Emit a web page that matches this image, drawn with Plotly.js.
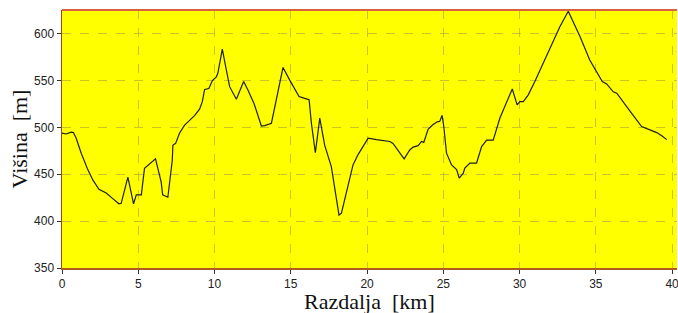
<!DOCTYPE html>
<html>
<head>
<meta charset="utf-8">
<script src="https://cdn.plot.ly/plotly-3.0.1.min.js"></script>
<style>html,body{margin:0;padding:0;background:#fff;}#chart{width:678px;height:313px;}</style>
</head>
<body>
<div id="chart"></div>
<script>
// Distance along route [km]
const distanceKm = [
  0.0, 0.27, 0.6, 0.75, 0.93, 1.26, 1.69, 2.02, 2.42, 2.9,
  3.33, 3.73, 3.88, 4.32, 4.69, 4.87, 5.2, 5.41, 6.13, 6.5,
  6.6, 6.94, 7.23, 7.27, 7.45, 7.71, 8.04, 8.37, 8.69, 9.02,
  9.2, 9.35, 9.63, 9.86, 10.12, 10.22, 10.51, 10.73, 10.99, 11.43,
  11.91, 12.19, 12.6, 13.07, 13.29, 13.73, 14.49, 14.93, 15.54, 15.91,
  16.2, 16.35, 16.61, 16.9, 17.22, 17.66, 17.95, 18.16, 18.32, 18.65,
  19.08, 19.41, 19.85, 20.07, 20.62, 21.49, 21.7, 22.03, 22.43, 22.8,
  23.02, 23.35, 23.57, 23.72, 24.0, 24.29, 24.6, 24.77, 24.92, 25.03,
  25.21, 25.54, 25.87, 26.04, 26.3, 26.41, 26.74, 27.18, 27.51, 27.84,
  28.27, 28.71, 29.15, 29.52, 29.84, 30.02, 30.24, 30.56, 31.0, 31.55,
  32.1, 32.64, 33.19, 33.96, 34.6, 35.05, 35.42, 35.71, 36.14, 36.37,
  36.8, 37.35, 38.0, 38.55, 38.99, 39.32, 39.65
];
// Elevation [m]
const elevationM = [
  494, 493, 495, 494.5, 488.5, 472.5, 455, 444, 434, 430,
  424, 418.5, 419, 447, 418.5, 428, 428, 456.5, 466.5, 442,
  428, 425.5, 465, 481, 483, 494, 502.5, 508, 512.5, 519.5,
  527.5, 540.5, 541.5, 550, 554, 558, 583.5, 565, 543.5, 530,
  549, 540, 525, 501.5, 502, 504.5, 564, 550.5, 533, 531,
  529.5, 504.5, 473, 510, 481, 458, 430, 406.5, 408.5, 430,
  460, 471, 483, 488.5, 487, 485, 483, 476, 466.5, 476,
  479, 480.5, 485, 484, 498, 502.5, 506, 506.5, 513, 501,
  472.5, 460, 455, 446, 451, 456.5, 462, 462, 479.5, 486.5,
  486.5, 510, 527.5, 541, 524, 527.5, 527.5, 534.5, 549, 568.5,
  588, 607.5, 624, 597, 572, 559.5, 549, 546.5, 538, 536.5,
  527.5, 515, 501, 497.5, 494.5, 491, 487
];
const xTickVals = [0, 5, 10, 15, 20, 25, 30, 35, 40];
const yTickVals = [350, 400, 450, 500, 550, 600];
const xTitle = "Razdalja\u00a0\u00a0[km]";
const yTitle = "Višina\u00a0\u00a0[m]";

const trace = {
  x: distanceKm,
  y: elevationM,
  type: 'scatter',
  mode: 'lines',
  line: {color: '#1e1e1e', width: 1.2},
  hoverinfo: 'skip'
};

const tickFont = {family: 'Liberation Sans, Arial, sans-serif', size: 12, color: '#222'};
const titleFont = {family: 'Liberation Serif, Times New Roman, serif', size: 22, color: '#111'};
const gridCol = 'rgba(150,140,70,0.5)';

const layout = {
  width: 678,
  height: 313,
  margin: {l: 62, r: 1, t: 10, b: 45},
  paper_bgcolor: '#ffffff',
  plot_bgcolor: '#ffff00',
  showlegend: false,
  xaxis: {
    range: [0, 40.32],
    tickvals: xTickVals,
    ticktext: xTickVals.map(String),
    ticks: 'outside',
    ticklen: 4,
    tickcolor: '#333',
    tickfont: tickFont,
    ticklabeloverflow: 'allow',
    showgrid: true,
    gridcolor: gridCol,
    griddash: 'dash',
    gridwidth: 1,
    zeroline: false,
    showline: true,
    linecolor: '#b35a1f',
    linewidth: 1.5,
    fixedrange: true
  },
  yaxis: {
    range: [350, 625.3],
    tickvals: yTickVals,
    ticktext: yTickVals.map(String),
    ticks: 'outside',
    ticklen: 4,
    tickcolor: '#333',
    tickfont: tickFont,
    showgrid: true,
    gridcolor: gridCol,
    griddash: 'dash',
    gridwidth: 1,
    zeroline: false,
    showline: true,
    linecolor: '#a8401e',
    linewidth: 1.5,
    title: {text: yTitle, font: titleFont, standoff: 0},
    fixedrange: true
  },
  annotations: [
    {text: xTitle, xref: 'paper', yref: 'paper', x: 0.5, y: -0.13,
     xanchor: 'center', yanchor: 'middle', showarrow: false, borderpad: 0, font: titleFont}
  ],
  shapes: [
    {type: 'line', xref: 'paper', yref: 'paper', x0: 0, x1: 1, y0: 1, y1: 1,
     line: {color: '#d8603c', width: 2}}
  ]
};

Plotly.newPlot('chart', [trace], layout, {displayModeBar: false, staticPlot: true});
</script>
</body>
</html>
